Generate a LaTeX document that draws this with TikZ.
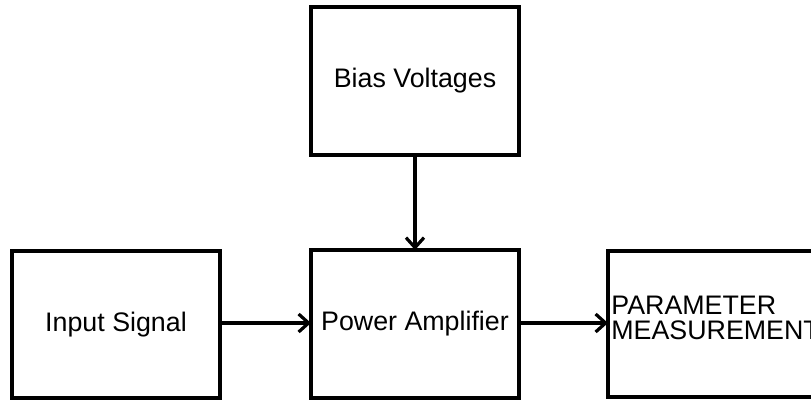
\documentclass[tikz,border=0pt]{standalone}
\usepackage{fontspec}
\setmainfont{Liberation Sans}
\usetikzlibrary{arrows.meta}
\tikzset{
  blk/.style={draw=black, line width=1.9pt, fill=white, inner sep=0pt, outer sep=0pt,
    minimum width=104pt, minimum height=73.5pt, font=\fontsize{13.4}{12.8}\selectfont},
  lbl/.style={inner sep=0pt, font=\fontsize{13.4}{12.8}\selectfont, align=left},
  conn/.style={line width=1.6pt, -{Straight Barb[length=5pt,width=9pt,line width=1.6pt]}}
}
\begin{document}
\begin{tikzpicture}[x=0.5pt,y=-0.5pt]
\useasboundingbox (0,0) rectangle (811,402);
\clip (0,0) rectangle (811,402);
\fill[white] (0,0) rectangle (811,402);
\node[blk] (in) at (116,324.5) {Input Signal};
\node[blk, minimum height=74pt] (bias) at (415,81) {Bias Voltages};
\node[blk, minimum height=74pt] (pa) at (415,324) {Power Amplifier};
\node[blk, minimum height=73pt] (pm) at (712,324) {};
\node[lbl, anchor=west] (pmt) at (611,318) {PARAMETER\\MEASUREMENT};
\draw[conn] (in.east |- 0,323) -- (pa.west |- 0,323);
\draw[conn] (pa.east |- 0,323) -- (pm.west |- 0,323);
\draw[conn] (bias.south) -- (pa.north);
\end{tikzpicture}
\end{document}
